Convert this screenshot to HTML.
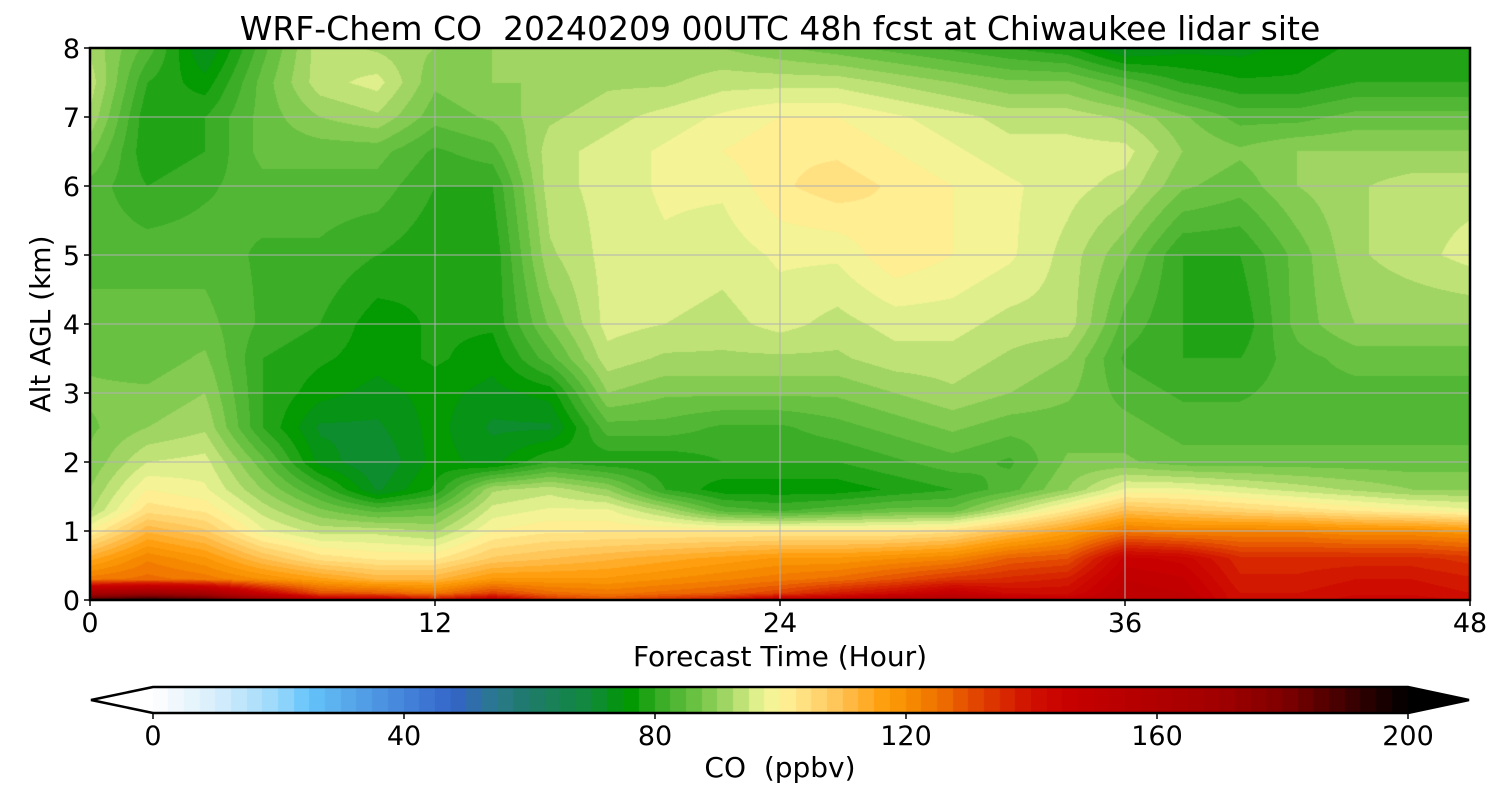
<!DOCTYPE html>
<html><head><meta charset="utf-8">
<style>
html,body{margin:0;padding:0;background:#fff;width:1500px;height:800px;overflow:hidden}
#wrap{position:relative;width:1500px;height:800px;font-family:"Liberation Sans","DejaVu Sans",sans-serif}
canvas{position:absolute}
svg{position:absolute;left:0;top:0}
text{font-family:"DejaVu Sans","Liberation Sans",sans-serif;fill:#000;white-space:pre}
</style></head>
<body>
<div id="wrap">
<canvas id="field" width="1380" height="552" style="left:90px;top:48px"></canvas>
<canvas id="cbar" width="1256" height="26" style="left:153px;top:687px"></canvas>
<svg id="ov" width="1500" height="800"></svg>
</div>
<script>
// ---- data ----
const times = [0,2,4,6,8,10,12,14,16,18,20,22,24,26,28,30,32,34,36,38,40,42,44,46,48];
const heights = [0,0.1,0.3,0.6,1,1.3,1.6,2,2.5,3,3.5,4,5,6,6.5,7,7.5,8];
const coValues = [
[190,165,124,114,100,92,90,88,87,88,87,86,84,84,88,92,94,92],
[195,170,126,122,112,104,100,95,90,88,86,86,84,80,78,78,80,84],
[190,165,124,118,108,102,98,96,92,90,88,86,84,82,80,80,76,72],
[175,145,120,110,98,94,90,86,80,80,80,82,82,84,86,86,86,84],
[150,130,116,104,94,88,82,74,72,76,78,80,82,84,86,90,94,94],
[150,128,112,102,94,84,72,70,72,74,76,76,80,84,86,92,96,92],
[140,124,112,102,92,86,78,76,76,76,78,78,78,80,82,86,88,90],
[150,132,118,108,100,96,92,74,72,74,76,78,78,80,84,88,90,90],
[135,126,118,110,102,98,94,80,72,76,84,88,92,94,94,92,90,90],
[130,124,118,112,102,98,90,78,84,90,94,96,96,96,96,94,92,90],
[135,126,120,114,102,92,80,78,84,88,92,95,97,98,98,96,92,90],
[140,128,122,116,102,84,76,80,82,88,92,94,96,98,100,98,94,90],
[150,132,124,118,102,82,76,80,82,88,92,96,98,102,102,100,94,88],
[150,138,126,118,102,84,76,80,84,88,92,94,98,104,102,100,94,86],
[160,142,130,120,102,86,78,82,86,90,94,96,102,102,100,98,92,84],
[160,148,134,122,104,86,80,84,88,92,94,96,100,100,98,96,90,82],
[152,142,136,128,110,94,84,82,86,90,92,94,98,98,96,94,88,80],
[148,142,138,130,116,102,90,88,86,88,90,94,94,96,96,94,88,78],
[152,152,150,146,124,110,98,88,86,84,82,84,88,94,96,92,84,72],
[152,150,148,144,122,108,98,86,84,82,80,80,80,88,90,88,80,74],
[140,140,138,136,122,106,96,86,84,82,80,78,80,86,88,84,78,74],
[140,140,138,136,122,104,94,86,84,84,84,86,86,90,90,84,78,76],
[144,142,140,136,120,102,92,86,84,84,86,90,92,92,90,86,80,78],
[144,142,140,136,120,100,90,86,84,84,86,90,94,94,90,86,80,78],
[142,140,138,134,118,98,90,86,84,84,86,90,96,94,90,86,80,78]
];
const xTicks = [0,12,24,36,48];
const yTicks = [0,1,2,3,4,5,6,7,8];
const cbTicks = [0,40,80,120,160,200];
const cmapVals = [0,10,20,25,30,40,48,55,60,70,76,80,86,92,96,100,104,110,116,120,126,132,140,146,160,170,180,190,200];
const cmapCols = ["#ffffff","#d8eefb","#9ad9fb","#64c4fb","#5aaeed","#4585db","#3464c8","#2a7a8a","#1e7a6a","#118a3a","#009900","#30a820","#66c040","#a8d868","#dcef8a","#fff59a","#ffe080","#ffc050","#ffa010","#f89000","#ee6c00","#e04000","#d01000","#c80000","#b00000","#a00000","#800000","#400000","#000000"];

// ---- scales ----
const PX0=90, PX1=1470, PY0=48, PY1=600;
const xs = t => PX0 + (t/48)*(PX1-PX0);
const ys = h => PY1 - (h/8)*(PY1-PY0);
const CB0=153, CB1=1408;
const cs = v => CB0 + (v/200)*(CB1-CB0);

function hex(c){return [parseInt(c.substr(1,2),16),parseInt(c.substr(3,2),16),parseInt(c.substr(5,2),16)];}
const rgbCols = cmapCols.map(hex);
function colorOf(v){
  v=Math.max(0,Math.min(200,v));
  for(let i=0;i<cmapVals.length-1;i++){
    if(v<=cmapVals[i+1]){const f=(v-cmapVals[i])/(cmapVals[i+1]-cmapVals[i]);const a=rgbCols[i],b=rgbCols[i+1];
      return [a[0]+(b[0]-a[0])*f,a[1]+(b[1]-a[1])*f,a[2]+(b[2]-a[2])*f];}
  }
  return rgbCols[rgbCols.length-1];
}
const lut=[];for(let k=0;k<=80;k++)lut.push(colorOf(k*2.5+1.25));
function band(v){let k=Math.floor(v/2.5);return lut[Math.max(0,Math.min(80,k))];}
function seg(arr,v){for(let i=0;i<arr.length-1;i++){if(v<=arr[i+1])return i;}return arr.length-2;}

// ---- field ----
(function(){
  const c=document.getElementById('field'),ctx=c.getContext('2d');
  const W=c.width,H=c.height,img=ctx.createImageData(W,H),d=img.data;
  const hcache=[];
  for(let py=0;py<H;py++){const h=(1-(py+0.5)/H)*8;const j=seg(heights,h);hcache.push([j,(h-heights[j])/(heights[j+1]-heights[j])]);}
  for(let px=0;px<W;px++){
    const t=(px+0.5)/W*48;const i=seg(times,t);const ft=(t-times[i])/(times[i+1]-times[i]);
    const A=coValues[i],B=coValues[i+1];
    for(let py=0;py<H;py++){
      const [j,fh]=hcache[py];
      const v0=A[j]+(A[j+1]-A[j])*fh, v1=B[j]+(B[j+1]-B[j])*fh;
      const col=band(v0+(v1-v0)*ft);const o=(py*W+px)*4;
      d[o]=col[0];d[o+1]=col[1];d[o+2]=col[2];d[o+3]=255;
    }
  }
  ctx.putImageData(img,0,0);
})();
// ---- colorbar ----
(function(){
  const c=document.getElementById('cbar'),ctx=c.getContext('2d');
  for(let k=0;k<80;k++){const col=lut[k];ctx.fillStyle=`rgb(${col[0]|0},${col[1]|0},${col[2]|0})`;
    const x0=cs(k*2.5)-CB0,x1=cs(k*2.5+2.5)-CB0;ctx.fillRect(Math.floor(x0),0,Math.ceil(x1-x0)+1,26);}
})();
// ---- overlay ----
const NS='http://www.w3.org/2000/svg';const ov=document.getElementById('ov');
function mk(tag,attrs,txt){const e=document.createElementNS(NS,tag);for(const k in attrs)e.setAttribute(k,attrs[k]);if(txt!==undefined)e.textContent=txt;ov.appendChild(e);return e;}
xTicks.forEach(t=>{
  const g=mk('line',{x1:xs(t),x2:xs(t),y1:PY0,y2:PY1,stroke:'#b0b0b0','stroke-width':1});
  
  
  const tk=mk('line',{x1:xs(t),x2:xs(t),y1:PY1,y2:PY1+6,stroke:'#000','stroke-width':1.5});
  
  
  const l=mk('text',{x:xs(t),y:632,'font-size':27,'text-anchor':'middle'},String(t));
  
  
});
yTicks.forEach(h=>{
  const g=mk('line',{x1:PX0,x2:PX1,y1:ys(h),y2:ys(h),stroke:'#b0b0b0','stroke-width':1});
  
  
  const tk=mk('line',{x1:PX0-6,x2:PX0,y1:ys(h),y2:ys(h),stroke:'#000','stroke-width':1.5});
  
  
  const l=mk('text',{x:PX0-10,y:ys(h)+10,'font-size':27,'text-anchor':'end'},String(h));
  
  
});
const fr=mk('rect',{x:PX0,y:PY0,width:PX1-PX0,height:PY1-PY0,fill:'none',stroke:'#000','stroke-width':2.5});


const ti=mk('text',{x:780,y:40,'font-size':33,'text-anchor':'middle','xml:space':'preserve'},'WRF-Chem CO  20240209 00UTC 48h fcst at Chiwaukee lidar site');


const xl=mk('text',{x:780,y:666,'font-size':28,'text-anchor':'middle'},'Forecast Time (Hour)');


const yl=mk('text',{x:50,y:324,'font-size':28,'text-anchor':'middle',transform:'rotate(-90 50 324)'},'Alt AGL (km)');


// colorbar extensions and outline
const lt=mk('polygon',{points:`${CB0},687 ${CB0},713 91,700`,fill:'#fff',stroke:'none'});


const rt=mk('polygon',{points:`${CB1},687 ${CB1},713 1469,700`,fill:'#000',stroke:'none'});


const ol=mk('polygon',{points:`91,700 ${CB0},687 ${CB1},687 1469,700 ${CB1},713 ${CB0},713`,fill:'none',stroke:'#000','stroke-width':2.5});


cbTicks.forEach(v=>{
  const tk=mk('line',{x1:cs(v),x2:cs(v),y1:713,y2:719,stroke:'#000','stroke-width':1.5});
  
  
  const l=mk('text',{x:cs(v),y:745,'font-size':27,'text-anchor':'middle'},String(v));
  
  
});
const cl=mk('text',{x:780,y:777,'font-size':28,'text-anchor':'middle','xml:space':'preserve'},'CO  (ppbv)');


</script>
</body></html>
